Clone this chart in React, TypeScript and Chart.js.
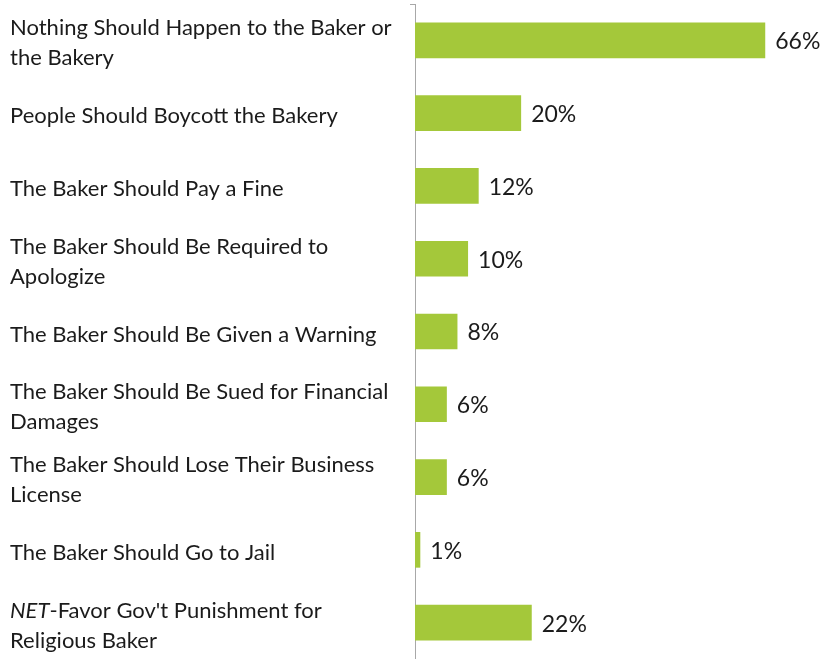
import React, { useEffect, useRef } from "react";
import { Chart, registerables } from "chart.js";

Chart.register(...registerables);

const categories: string[][] = [
  ["Nothing Should Happen to the Baker or", "the Bakery"],
  ["People Should Boycott the Bakery"],
  ["The Baker Should Pay a Fine"],
  ["The Baker Should Be Required to", "Apologize"],
  ["The Baker Should Be Given a Warning"],
  ["The Baker Should Be Sued for Financial", "Damages"],
  ["The Baker Should Lose Their Business", "License"],
  ["The Baker Should Go to Jail"],
  ["NET-Favor Gov't Punishment for", "Religious Baker"],
];
const values: number[] = [66, 20, 12, 10, 8, 6, 6, 1, 22];
const italicPrefix = "NET";

const FONT_FAMILY = "Lato, 'Noto Sans', sans-serif";
const FONT_SIZE = 22;
const VALUE_FONT_SIZE = 23;

export default function App() {
  const ref = useRef<HTMLCanvasElement | null>(null);

  useEffect(() => {
    const canvas = ref.current;
    if (!canvas) return;

    const labelPlugin = {
      id: "customLabels",
      afterDraw(chart: any) {
        const ctx = chart.ctx;
        const yScale = chart.scales.y;
        ctx.save();
        ctx.fillStyle = "#1b1b1b";
        ctx.textBaseline = "middle";
        ctx.textAlign = "left";
        categories.forEach((lines, i) => {
          const cy = yScale.getPixelForValue(i) + 3;
          const lh = 30;
          const startY = cy - ((lines.length - 1) * lh) / 2;
          lines.forEach((line, j) => {
            const y = startY + j * lh;
            let x = 10;
            if (j === 0 && line.startsWith(italicPrefix)) {
              ctx.font = `italic ${FONT_SIZE}px ${FONT_FAMILY}`;
              ctx.fillText(italicPrefix, x, y);
              x += ctx.measureText(italicPrefix).width;
              ctx.font = `${FONT_SIZE}px ${FONT_FAMILY}`;
              ctx.fillText(line.slice(italicPrefix.length), x, y);
            } else {
              ctx.font = `${FONT_SIZE}px ${FONT_FAMILY}`;
              ctx.fillText(line, x, y);
            }
          });
        });
        // value labels
        const meta = chart.getDatasetMeta(0);
        ctx.font = `${VALUE_FONT_SIZE}px ${FONT_FAMILY}`;
        meta.data.forEach((el: any, i: number) => {
          ctx.fillText(values[i] + "%", el.x + 10, el.y + 1.5);
        });
        ctx.restore();
      },
    };

    const chart = new Chart(canvas, {
      type: "bar",
      data: {
        labels: categories.map((l) => l.join(" ")),
        datasets: [
          {
            data: values,
            backgroundColor: "#a4c83a",
            borderWidth: 0,
            categoryPercentage: 1,
            barPercentage: 0.49,
          },
        ],
      },
      options: {
        indexAxis: "y",
        responsive: false,
        animation: false,
        layout: { padding: { left: 410, right: 12, top: 4, bottom: 0 } },
        plugins: {
          legend: { display: false },
          tooltip: { enabled: false },
        },
        scales: {
          x: {
            display: false,
            min: 0,
            max: 75,
          },
          y: {
            offset: true,
            ticks: { display: false },
            grid: {
              display: true,
              drawOnChartArea: false,
              drawTicks: true,
              tickLength: 5,
              color: (c: any) => (c.index === 0 ? "#a8a8a8" : "rgba(0,0,0,0)"),
              offset: true,
            },
            border: { display: true, color: "#a8a8a8", width: 1 },
          },
        },
      },
      plugins: [labelPlugin],
    });

    return () => chart.destroy();
  }, []);

  return (
    <div style={{ position: "fixed", left: 0, top: 0, width: 825, height: 659, background: "#fff" }}>
      <canvas ref={ref} width={825} height={659} />
    </div>
  );
}
